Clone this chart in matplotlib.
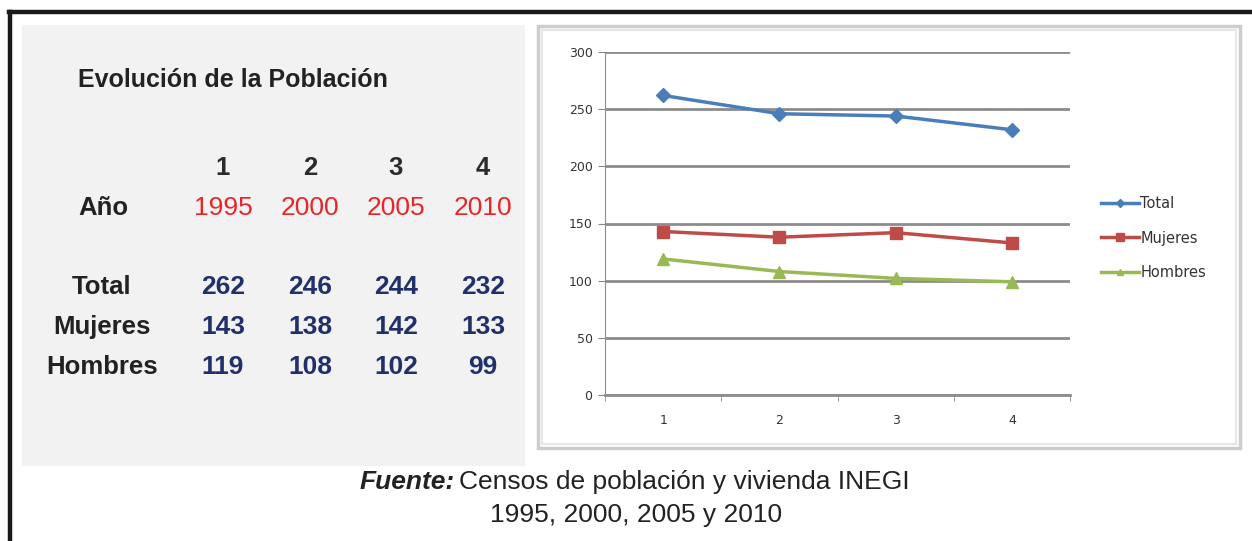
import matplotlib
matplotlib.use("Agg")
import matplotlib.pyplot as plt
from matplotlib.patches import Rectangle

# data
indices = [1, 2, 3, 4]
years = ["1995", "2000", "2005", "2010"]
total = [262, 246, 244, 232]
mujeres = [143, 138, 142, 133]
hombres = [119, 108, 102, 99]
series_names = ["Total", "Mujeres", "Hombres"]

W, H = 1252, 541
font = "Liberation Sans"


def fx(x):
    return x / W


def fy(y):
    return 1 - y / H


fig = plt.figure(figsize=(W / 100, H / 100), dpi=100)
fig.patch.set_facecolor("white")

# black frame
fig.add_artist(plt.Line2D([fx(10), fx(10)], [fy(12), fy(545)], color="#1a1a1a", lw=3.2))
fig.add_artist(plt.Line2D([fx(9), fx(1255)], [fy(12), fy(12)], color="#1a1a1a", lw=3.2))

# gray table panel
fig.add_artist(Rectangle((fx(22), fy(466)), fx(525) - fx(22), fy(25) - fy(466),
                         facecolor="#f2f2f2", edgecolor="none", zorder=-2))

# chart box
fig.add_artist(Rectangle((fx(538), fy(448)), fx(1240) - fx(538), fy(26) - fy(448),
                         facecolor="white", edgecolor="#cdcdcd", lw=2.5, zorder=-2))
fig.add_artist(Rectangle((fx(542), fy(444)), fx(1236) - fx(542), fy(30) - fy(444),
                         facecolor="none", edgecolor="#e6e6e6", lw=1.5, zorder=-1))

# table text
fig.text(fx(78), fy(80), "Evolución de la Población", family=font, weight="bold",
         fontsize=18, color="#222222", ha="left", va="center")
col_x = [223, 310, 396, 483]
for i, cx in enumerate(col_x):
    fig.text(fx(cx), fy(168), str(indices[i]), family=font, weight="bold", fontsize=18.5,
             color="#2b2b2b", ha="center", va="center")
    fig.text(fx(cx), fy(208), years[i], family=font, fontsize=19,
             color="#e8262a", ha="center", va="center")
    for y, vals in zip([287, 327, 367], [total, mujeres, hombres]):
        fig.text(fx(cx), fy(y), str(vals[i]), family=font, weight="bold", fontsize=19,
                 color="#22306a", ha="center", va="center")
fig.text(fx(78), fy(208), "Año", family=font, weight="bold", fontsize=18.5,
         color="#222222", ha="left", va="center")
for y, lab in zip([287, 327, 367], series_names):
    fig.text(fx(102), fy(y), lab, family=font, weight="bold", fontsize=18.5,
             color="#222222", ha="center", va="center")

# caption
fig.text(fx(455), fy(482), "Fuente:", family=font, weight="bold", style="italic",
         fontsize=19, color="#222222", ha="right", va="center")
fig.text(fx(459), fy(482), "Censos de población y vivienda INEGI", family=font,
         fontsize=19, color="#222222", ha="left", va="center")
fig.text(fx(636), fy(515), "1995, 2000, 2005 y 2010", family=font,
         fontsize=19, color="#222222", ha="center", va="center")

# line chart
ax = fig.add_axes([fx(605), fy(395), fx(1070) - fx(605), fy(52) - fy(395)])
ax.set_facecolor("white")
ax.plot(indices, total, color="#4a7ebb", lw=2.5, marker="D", ms=7, label=series_names[0])
ax.plot(indices, mujeres, color="#be4b48", lw=2.5, marker="s", ms=9, label=series_names[1])
ax.plot(indices, hombres, color="#98b954", lw=2.5, marker="^", ms=8, label=series_names[2])
ax.set_xlim(0.5, 4.5)
ax.set_ylim(0, 300)
ax.set_yticks(range(0, 301, 50))
ax.set_xticks(indices)
ax.set_xticks([0.5, 1.5, 2.5, 3.5, 4.5], minor=True)
ax.tick_params(axis="x", which="major", length=0, pad=14)
ax.tick_params(axis="x", which="minor", length=4, color="#888888", direction="out")
ax.tick_params(axis="y", length=5, color="#888888", pad=4)
ax.tick_params(labelsize=9, labelcolor="#333333")
ax.grid(axis="y", color="#8c8c8c", lw=2)
ax.set_axisbelow(True)
for s in ["top", "right"]:
    ax.spines[s].set_visible(False)
ax.spines["left"].set_color("#8c8c8c")
ax.spines["bottom"].set_color("#8c8c8c")
ax.spines["bottom"].set_linewidth(2)
ax.legend(loc="center left", bbox_to_anchor=(fx(1088), fy(238)), bbox_transform=fig.transFigure,
          frameon=False, fontsize=10.5, labelspacing=1.35, handlelength=2.6, handletextpad=0.1,
          markerscale=0.6, labelcolor="#333333")

fig.savefig("out.png", dpi=100)
